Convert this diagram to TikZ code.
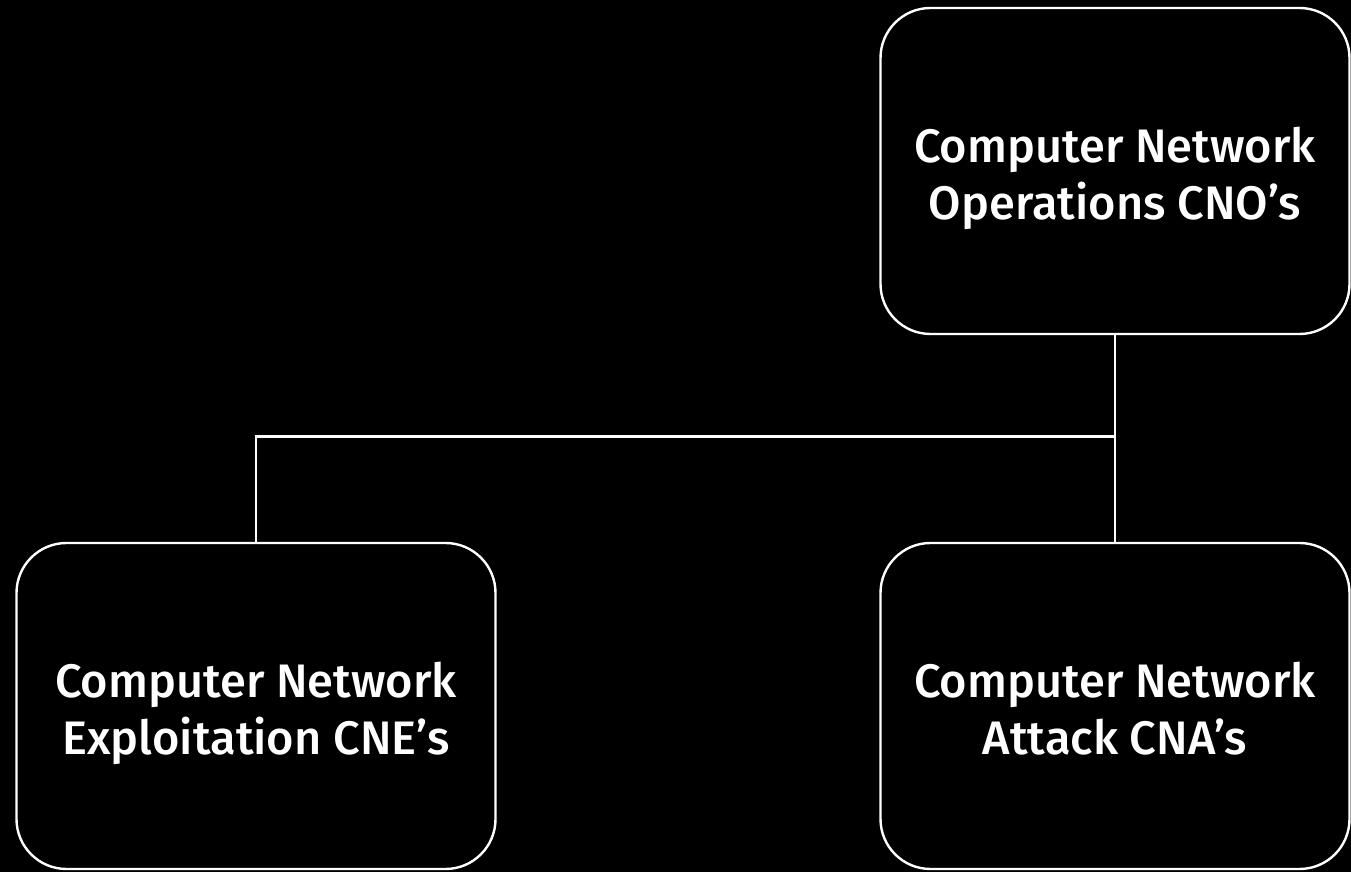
\documentclass[tikz,border=0pt]{standalone}
\usepackage{fontspec}
\setmainfont{Fira Sans}[UprightFont=* Medium]
\usepackage{tikz}
\usetikzlibrary{positioning,calc}
\definecolor{bg}{HTML}{000000}
\definecolor{ink}{HTML}{FFFFFF}
\tikzset{
  opbox/.style={draw=ink,line width=2.4pt,rounded corners=50pt,fill=bg,text=ink,
    minimum width=469pt,minimum height=326pt,align=center,
    font=\fontsize{47}{57}\selectfont,text height=110pt,text depth=12pt},
  link/.style={draw=ink,line width=2.4pt},
}
\begin{document}
\begin{tikzpicture}[x=1pt,y=1pt]
\fill[bg] (0,0) rectangle (1351,872);
\useasboundingbox (0,0) rectangle (1351,872);
\node[opbox] (cno) at (1115,701) {Computer Network\\Operations CNO's};
\node[opbox,minimum width=479pt] (cne) at (256,166) {Computer Network\\Exploitation CNE's};
\node[opbox] (cna) at (1115,166) {Computer Network\\Attack CNA's};
\coordinate (split) at ($(cno.south)!0.49!(cna.north)$);
\draw[link] (cno.south) -- (split) -- (cna.north);
\draw[link] (split) -| (cne.north);
\end{tikzpicture}
\end{document}
